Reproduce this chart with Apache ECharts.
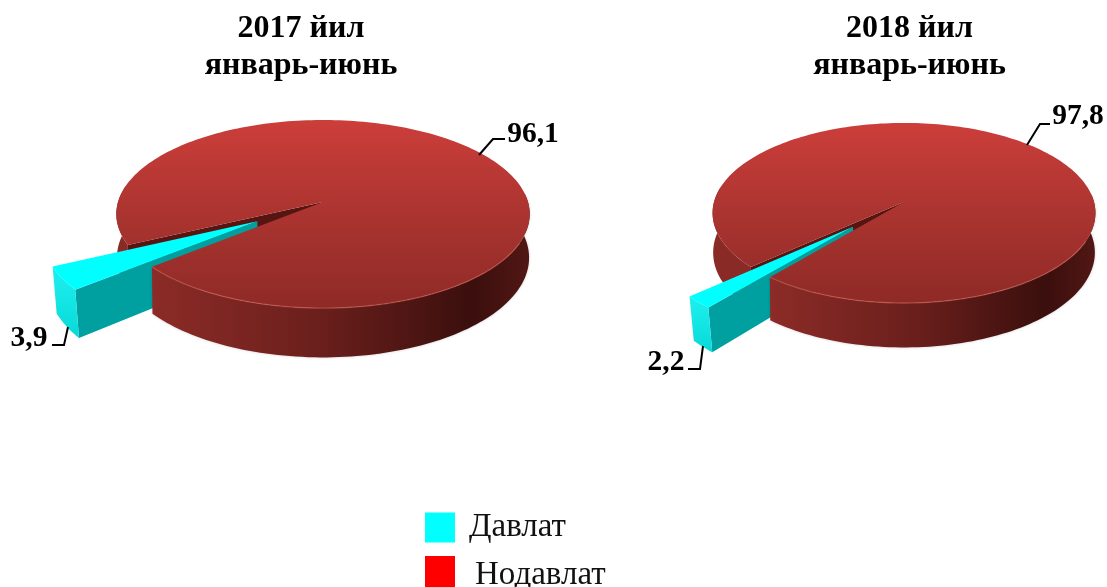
<!DOCTYPE html>
<html><head><meta charset="utf-8">
<style>html,body{margin:0;padding:0;background:#fff}#c{width:1107px;height:587px}</style>
<script src="https://cdn.jsdelivr.net/npm/echarts@6/dist/echarts.min.js"></script>
</head><body><div id="c"></div>
<script>
// ---- data ----
const periodTitles = ['2017 йил\nянварь-июнь', '2018 йил\nянварь-июнь'];
const seriesNames = ['Давлат', 'Нодавлат'];
const stateValues = [3.9, 2.2];
const privateValues = [96.1, 97.8];

// ---- layout of the two tilted pies (perspective projection of a disc) ----
const pies = [
  {cx: 323, cy: 202, B: 205, A: 92.5, k: 0.128, H: 43, s: 0.985, sWall: 0.997, cut: 154, explode: 0.372,
   titleX: 301,
   stateLabel: {x: 29, y: 338, line: [[52,345],[64,345],[68,327]]},
   privateLabel: {x: 533, y: 134, line: [[479,155],[493,139],[505,139]]}},
  {cx: 904, cy: 202, B: 190, A: 88.7, k: 0.122, H: 39, s: 0.98, sWall: 0.997, cut: 137.7, explode: 0.375,
   titleX: 909.5,
   stateLabel: {x: 666, y: 362, line: [[688,369],[700,369],[703,346]]},
   privateLabel: {x: 1078, y: 116, line: [[1027,145],[1040,124],[1050,124]]}}
];
const grad = (x, y, stops) => new echarts.graphic.LinearGradient(0, 0, x, y,
  stops.map(s => ({offset: s[0], color: s[1]})));
const topFill = () => grad(0, 1, [[0,'#cc3e3a'],[0.5,'#ab3430'],[1,'#8e2a26']]);
const wallFill = () => grad(1, 0, [[0,'#8c2b27'],[0.45,'#6a1f1c'],[0.85,'#3a0f0d'],[1,'#521714']]);
const LABEL_FONT = 'bold 29.5px "Liberation Serif"';

function project(p, u, v) {
  const w = 1 / (1 - p.k * v);
  return [p.cx + p.B * u * w, p.cy + p.A * v * w, w];
}
function pt(p, deg, r, ox, oy) {
  const a = deg * Math.PI / 180;
  return project(p, ox + r * Math.cos(a), oy + r * Math.sin(a));
}
function below(p, q, s) { return [p.cx + (q[0] - p.cx) * s, q[1] + p.H * q[2]]; }
function arc(p, a0, a1, ox, oy) {
  const out = [], n = Math.max(1, Math.ceil(Math.abs(a1 - a0) / 1.5));
  for (let i = 0; i <= n; i++) out.push(pt(p, a0 + (a1 - a0) * i / n, 1, ox, oy));
  return out;
}
function wall(p, a0, a1, ox, oy, s) {
  const top = arc(p, a0, a1, ox, oy);
  return top.map(q => [q[0], q[1]]).concat(top.slice().reverse().map(q => below(p, q, s)));
}
const poly = (points, fill, z2, extra) => ({type: 'polygon', z2, shape: {points},
  style: Object.assign({fill, stroke: null}, extra || {})});
const leader = (line, z2) => ({type: 'polyline', z2, shape: {points: line},
  style: {stroke: '#000', lineWidth: 2, fill: null}});
const label = (t, val, z2) => ({type: 'text', z2, style: {text: String(val).replace('.', ','),
  x: t.x, y: t.y, textAlign: 'center', textVerticalAlign: 'middle', font: LABEL_FONT, fill: '#000'}});

function renderState(params, api) {
  const i = api.value(1), p = pies[i], val = api.value(0);
  const sweep = val / (val + privateValues[i]) * 360;
  const a1 = p.cut, a0 = p.cut - sweep, mid = (a0 + a1) / 2 * Math.PI / 180;
  const ox = p.explode * Math.cos(mid), oy = p.explode * Math.sin(mid);
  const tip = project(p, ox, oy), c0 = pt(p, a0, 1, ox, oy);
  const bTip = below(p, tip, p.s), b0 = below(p, c0, p.s);
  const xy = q => [q[0], q[1]];
  return {type: 'group', children: [
    poly([xy(tip), xy(c0), b0, bTip], '#00a0a0', 20),
    poly(wall(p, a0, a1, ox, oy, p.s), grad(0, 1, [[0,'#1ef0f0'],[1,'#08d8d8']]), 21),
    poly([xy(tip), ...arc(p, a0, a1, ox, oy).map(xy)], '#00ffff', 22),
    leader(p.stateLabel.line, 60),
    label(p.stateLabel, val, 61)
  ]};
}
function renderPrivate(params, api) {
  const i = api.value(1), p = pies[i], val = api.value(0);
  const sweep = val / (val + stateValues[i]) * 360;
  const a0 = p.cut, a1 = p.cut + sweep;
  const apex = project(p, 0, 0), xy = q => [q[0], q[1]];
  const edge = pt(p, a0, 1, 0, 0);
  const face = [xy(apex), ...arc(p, a0, a1, 0, 0).map(xy)];
  const rim = arc(p, 385, a1, 0, 0).map(xy);
  return {type: 'group', children: [
    poly(wall(p, a0, 190, 0, 0, p.sWall), '#8a2a26', 10),
    poly([xy(apex), xy(edge), below(p, edge, p.sWall), below(p, apex, p.sWall)], '#571512', 11),
    poly(wall(p, 355, a1, 0, 0, p.sWall), wallFill(), 30, {shadowBlur: 3, shadowColor: 'rgba(0,0,0,0.2)'}),
    poly(face, topFill(), 31),
    {type: 'polyline', z2: 32, shape: {points: rim},
     style: {stroke: 'rgba(205,95,85,0.6)', lineWidth: 1.3, fill: null}},
    leader(p.privateLabel.line, 60),
    label(p.privateLabel, val, 61)
  ]};
}

const chart = echarts.init(document.getElementById('c'), null, {renderer: 'canvas'});
const toRows = arr => arr.map((v, i) => [v, i]);
chart.setOption({
  animation: false,
  backgroundColor: '#fff',
  title: periodTitles.map((t, i) => ({
    text: t, left: pies[i].titleX, top: 10, padding: 0, textAlign: 'center',
    textStyle: {fontFamily: 'Liberation Serif', fontWeight: 'bold', fontSize: 32, lineHeight: 37, color: '#000'}
  })).concat([{
    text: seriesNames[1], left: 475, top: 557, padding: 0,
    textStyle: {fontFamily: 'Liberation Serif', fontWeight: 'normal', fontSize: 33, lineHeight: 37, color: '#111'}
  }]),
  legend: [
    {left: 425, top: 511, padding: 0, orient: 'vertical', selectedMode: false, itemWidth: 30, itemHeight: 30,
     data: [{name: seriesNames[0], icon: 'rect', itemStyle: {color: '#00ffff'}}],
     textStyle: {fontFamily: 'Liberation Serif', fontSize: 33, color: '#111', padding: [0,0,2,9]}},
    {left: 425, top: 556, padding: 0, orient: 'vertical', selectedMode: false, itemWidth: 30, itemHeight: 31,
     data: [{name: seriesNames[1], icon: 'rect', itemStyle: {color: '#ff0000'}}],
     formatter: () => ' ',
     textStyle: {fontSize: 10}}
  ],
  series: [
    {type: 'custom', name: seriesNames[1], coordinateSystem: 'none', silent: true,
     data: toRows(privateValues), renderItem: renderPrivate},
    {type: 'custom', name: seriesNames[0], coordinateSystem: 'none', silent: true,
     data: toRows(stateValues), renderItem: renderState}
  ]
});
</script></body></html>
